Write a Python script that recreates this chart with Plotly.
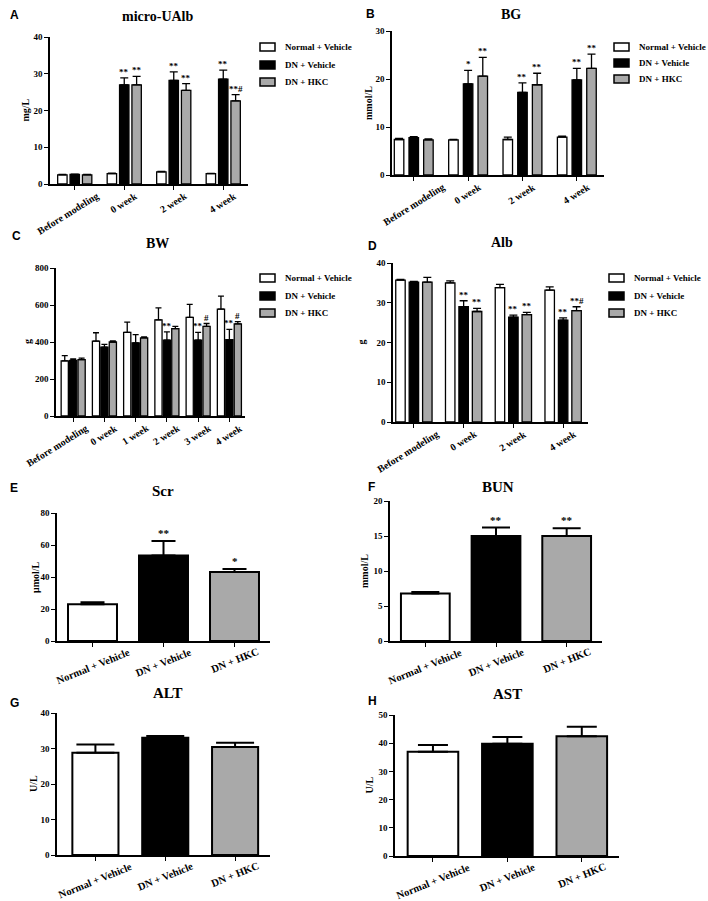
import plotly.graph_objects as go

W, H = 708, 901

# ---------------- data ----------------
groups = ["Normal + Vehicle", "DN + Vehicle", "DN + HKC"]
group_colors = ["#ffffff", "#000000", "#a9a9a9"]

# A: micro-UAlb (mg/L)
a_cats = ["Before modeling", "0 week", "2 week", "4 week"]
a_normal = [2.5, 2.8, 3.3, 2.8]
a_normal_err = [0.1, 0.15, 0.15, 0.1]
a_dn = [2.6, 27.0, 28.2, 28.5]
a_dn_err = [0.1, 1.9, 2.3, 2.5]
a_hkc = [2.5, 27.0, 25.5, 22.6]
a_hkc_err = [0.1, 2.3, 1.8, 1.7]
a_sig_normal = ["", "", "", ""]
a_sig_dn = ["", "**", "**", "**"]
a_sig_hkc = ["", "**", "**", "**#"]

# B: BG (mmol/L)
b_cats = ["Before modeling", "0 week", "2 week", "4 week"]
b_normal = [7.4, 7.3, 7.4, 7.9]
b_normal_err = [0.2, 0.1, 0.5, 0.2]
b_dn = [7.8, 19.0, 17.2, 19.8]
b_dn_err = [0.2, 2.8, 2.0, 2.4]
b_hkc = [7.3, 20.6, 18.8, 22.2]
b_hkc_err = [0.2, 3.9, 2.4, 3.0]
b_sig_normal = ["", "", "", ""]
b_sig_dn = ["", "*", "**", "**"]
b_sig_hkc = ["", "**", "**", "**"]

# C: BW (g)
c_cats = ["Before modeling", "0 week", "1 week", "2 week", "3 week", "4 week"]
c_normal = [298, 405, 452, 520, 533, 578]
c_normal_err = [28, 45, 55, 65, 70, 70]
c_dn = [300, 372, 395, 410, 410, 413]
c_dn_err = [8, 15, 45, 45, 42, 55]
c_hkc = [305, 400, 422, 472, 485, 498]
c_hkc_err = [8, 6, 6, 12, 15, 12]
c_sig_normal = ["", "", "", "", "", ""]
c_sig_dn = ["", "", "", "**", "**", "**"]
c_sig_hkc = ["", "", "", "", "#", "#"]

# D: Alb (g)
d_cats = ["Before modeling", "0 week", "2 week", "4 week"]
d_normal = [35.7, 35.0, 33.8, 33.2]
d_normal_err = [0.2, 0.5, 0.8, 0.8]
d_dn = [35.2, 29.0, 26.4, 25.6]
d_dn_err = [0.2, 1.5, 0.5, 0.6]
d_hkc = [35.2, 27.8, 27.0, 28.0]
d_hkc_err = [1.2, 0.8, 0.6, 1.0]
d_sig_normal = ["", "", "", ""]
d_sig_dn = ["", "**", "**", "**"]
d_sig_hkc = ["", "**", "**", "**#"]

# E: Scr (umol/L)
e_values = [23.0, 53.5, 43.2]
e_err = [1.2, 9.0, 1.8]
e_sig = ["", "**", "*"]

# F: BUN (mmol/L)
f_values = [6.8, 15.0, 15.0]
f_err = [0.2, 1.2, 1.1]
f_sig = ["", "**", "**"]

# G: ALT (U/L)
g_values = [28.8, 33.0, 30.4]
g_err = [2.3, 0.5, 1.2]
g_sig = ["", "", ""]

# H: AST (U/L)
h_values = [37.0, 39.8, 42.5]
h_err = [2.4, 2.4, 3.3]
h_sig = ["", "", ""]

# ---------------- layout helpers ----------------
SERIF = "Liberation Serif"
SANS = "Liberation Sans"


def px(x):
    return x / W


def py(y):
    return 1 - y / H


fig = go.Figure()
annotations = []
shapes = []

grouped_panels = [
    dict(letter="A", title="micro-UAlb", ylabel="mg/L", cats=a_cats,
         series=[(a_normal, a_normal_err, a_sig_normal), (a_dn, a_dn_err, a_sig_dn), (a_hkc, a_hkc_err, a_sig_hkc)],
         x0=50, x1=248, ybot=184, ytop=37, xr=[-0.5, 3.5], yr=[0, 40], dtick=10,
         bw=0.19, slot=0.25, cap=4, first_shift=-7,
         letter_xy=(8, 15), title_xy=(157, 17), ylab_x=25,
         legend_x=260, legend_rows=[47, 65, 82]),
    dict(letter="B", title="BG", ylabel="mmol/L", cats=b_cats,
         series=[(b_normal, b_normal_err, b_sig_normal), (b_dn, b_dn_err, b_sig_dn), (b_hkc, b_hkc_err, b_sig_hkc)],
         x0=392, x1=604, ybot=175, ytop=31, xr=[-0.4, 3.5], yr=[0, 30], dtick=10,
         bw=0.175, slot=0.27, cap=4, first_shift=0,
         letter_xy=(364, 14), title_xy=(511, 15), ylab_x=369,
         legend_x=614, legend_rows=[47, 63, 79]),
    dict(letter="C", title="BW", ylabel="g", cats=c_cats,
         series=[(c_normal, c_normal_err, c_sig_normal), (c_dn, c_dn_err, c_sig_dn), (c_hkc, c_hkc_err, c_sig_hkc)],
         x0=56, x1=245, ybot=416, ytop=268, xr=[-0.55, 5.5], yr=[0, 800], dtick=200,
         bw=0.23, slot=0.27, cap=3, first_shift=-16,
         letter_xy=(10, 236), title_xy=(157, 243), ylab_x=28,
         legend_x=260, legend_rows=[278, 296, 313]),
    dict(letter="D", title="Alb", ylabel="g", cats=d_cats,
         series=[(d_normal, d_normal_err, d_sig_normal), (d_dn, d_dn_err, d_sig_dn), (d_hkc, d_hkc_err, d_sig_hkc)],
         x0=393, x1=588, ybot=422, ytop=263, xr=[-0.42, 3.5], yr=[0, 40], dtick=10,
         bw=0.19, slot=0.27, cap=4, first_shift=-6,
         letter_xy=(366, 246), title_xy=(502, 242), ylab_x=361,
         legend_x=609, legend_rows=[278, 296, 313]),
]

single_panels = [
    dict(letter="E", title="Scr", ylabel="\u03bcmol/L", values=e_values, err=e_err, sig=e_sig,
         x0=57, x1=270, ybot=641, ytop=513, xr=[-0.5, 2.5], yr=[0, 80], dtick=20,
         bw=0.69, cap=12, first_shift=0, letter_xy=(8, 488), title_xy=(163, 491), ylab_x=35),
    dict(letter="F", title="BUN", ylabel="mmol/L", values=f_values, err=f_err, sig=f_sig,
         x0=390, x1=602, ybot=641, ytop=501, xr=[-0.5, 2.5], yr=[0, 20], dtick=5,
         bw=0.69, cap=14, first_shift=0, letter_xy=(366, 487), title_xy=(498, 487), ylab_x=364),
    dict(letter="G", title="ALT", ylabel="U/L", values=g_values, err=g_err, sig=g_sig,
         x0=57, x1=270, ybot=855, ytop=713, xr=[-0.55, 2.5], yr=[0, 40], dtick=10,
         bw=0.66, cap=19, first_shift=0, letter_xy=(8, 703), title_xy=(167, 693), ylab_x=33),
    dict(letter="H", title="AST", ylabel="U/L", values=h_values, err=h_err, sig=h_sig,
         x0=395, x1=619, ybot=856, ytop=715, xr=[-0.51, 2.5], yr=[0, 50], dtick=10,
         bw=0.68, cap=15, first_shift=0, letter_xy=(366, 701), title_xy=(507, 694), ylab_x=369),
]

layout_axes = {}


def add_axes(idx, p, yfont):
    xa = "xaxis" if idx == 1 else f"xaxis{idx}"
    ya = "yaxis" if idx == 1 else f"yaxis{idx}"
    layout_axes[xa] = dict(
        domain=[px(p["x0"]), px(p["x1"])], anchor=f"y{idx}" if idx > 1 else "y",
        type="category", range=p["xr"], showline=True, linecolor="black", linewidth=1.5,
        ticks="outside", ticklen=4, tickwidth=1.2, tickcolor="black", showticklabels=False,
        showgrid=False, zeroline=False, fixedrange=True, automargin=False)
    layout_axes[ya] = dict(
        domain=[py(p["ybot"]), py(p["ytop"])], anchor=f"x{idx}" if idx > 1 else "x",
        range=p["yr"], dtick=p["dtick"], tick0=0, showline=True, linecolor="black", linewidth=1.5,
        ticks="outside", ticklen=4, tickwidth=1.2, tickcolor="black",
        tickfont=dict(family=SERIF, size=yfont, color="black", weight="bold"),
        showgrid=False, zeroline=False, fixedrange=True, automargin=False)


def category_labels(p, cats, xref, angle, size, gap):
    # rotated category labels centred under their tick (GraphPad style)
    for i, c in enumerate(cats):
        annotations.append(dict(text=c, x=i, xref=xref, y=py(p["ybot"] + gap), yref="paper",
                                xanchor="center", yanchor="top", textangle=angle,
                                xshift=p["first_shift"] if i == 0 else 0, showarrow=False,
                                borderpad=0,
                                font=dict(family=SERIF, size=size, color="black", weight="bold")))


def panel_text(p, title_size, label_size):
    lx, ly = p["letter_xy"]
    annotations.append(dict(text=p["letter"], x=px(lx), y=py(ly), xref="paper", yref="paper",
                            xanchor="left", yanchor="middle", showarrow=False,
                            font=dict(family=SANS, size=12, color="black", weight="bold")))
    tx, ty = p["title_xy"]
    annotations.append(dict(text=p["title"], x=px(tx), y=py(ty), xref="paper", yref="paper",
                            xanchor="center", yanchor="middle", showarrow=False,
                            font=dict(family=SERIF, size=title_size, color="black", weight="bold")))
    annotations.append(dict(text=p["ylabel"], x=px(p["ylab_x"]), y=py((p["ybot"] + p["ytop"]) / 2),
                            xref="paper", yref="paper", xanchor="center", yanchor="middle",
                            textangle=-90, showarrow=False,
                            font=dict(family=SERIF, size=label_size, color="black", weight="bold")))


idx = 0
for p in grouped_panels:
    idx += 1
    xref = "x" if idx == 1 else f"x{idx}"
    yref = "y" if idx == 1 else f"y{idx}"
    for j, (vals, errs, sigs) in enumerate(p["series"]):
        off = (j - 1) * p["slot"]
        fig.add_trace(go.Bar(
            x=p["cats"], y=vals, name=groups[j], xaxis=xref, yaxis=yref,
            width=p["bw"], offset=off - p["bw"] / 2,
            marker=dict(color=group_colors[j], line=dict(color="black", width=1.3)),
            error_y=dict(type="data", array=errs, arrayminus=[0] * len(errs), symmetric=False,
                         color="black", thickness=1.3, width=p["cap"]),
            showlegend=False))
        for i, s in enumerate(sigs):
            if s:
                annotations.append(dict(text=s, x=i + off, y=vals[i] + errs[i], xref=xref, yref=yref,
                                        xanchor="center", yanchor="bottom", yshift=-1, showarrow=False,
                                        font=dict(family=SERIF, size=9, color="black", weight="bold")))
    add_axes(idx, p, 9)
    category_labels(p, p["cats"], xref, -32, 10, 5)
    panel_text(p, 14, 10)
    # legend
    for j, g in enumerate(groups):
        ry = p["legend_rows"][j]
        lx = p["legend_x"]
        shapes.append(dict(type="rect", xref="paper", yref="paper",
                           x0=px(lx), x1=px(lx + 15), y0=py(ry + 4), y1=py(ry - 4),
                           fillcolor=group_colors[j], line=dict(color="black", width=1.5)))
        annotations.append(dict(text=g, x=px(lx + 23), y=py(ry), xref="paper", yref="paper",
                                xanchor="left", yanchor="middle", showarrow=False,
                                font=dict(family=SERIF, size=9, color="black", weight="bold")))

for p in single_panels:
    idx += 1
    xref = f"x{idx}"
    yref = f"y{idx}"
    fig.add_trace(go.Bar(
        x=groups, y=p["values"], xaxis=xref, yaxis=yref, width=p["bw"],
        marker=dict(color=group_colors, line=dict(color="black", width=2)),
        error_y=dict(type="data", array=p["err"], arrayminus=[0] * len(p["err"]), symmetric=False,
                     color="black", thickness=2, width=p["cap"]),
        showlegend=False))
    for i, s in enumerate(p["sig"]):
        if s:
            annotations.append(dict(text=s, x=i, y=p["values"][i] + p["err"][i], xref=xref, yref=yref,
                                    xanchor="center", yanchor="bottom", yshift=0, showarrow=False,
                                    font=dict(family=SERIF, size=11, color="black", weight="bold")))
    add_axes(idx, p, 9)
    category_labels(p, groups, xref, -22, 10.5, 4)
    panel_text(p, 15, 10)

fig.update_layout(
    width=W, height=H, margin=dict(l=0, r=0, t=0, b=0, autoexpand=False),
    paper_bgcolor="white", plot_bgcolor="white",
    barmode="group", showlegend=False,
    annotations=annotations, shapes=shapes,
    **layout_axes)

fig.write_html(
    "out.html",
    config={"displayModeBar": False},
    post_script="document.body.style.margin='0';document.body.style.overflow='hidden';",
)
